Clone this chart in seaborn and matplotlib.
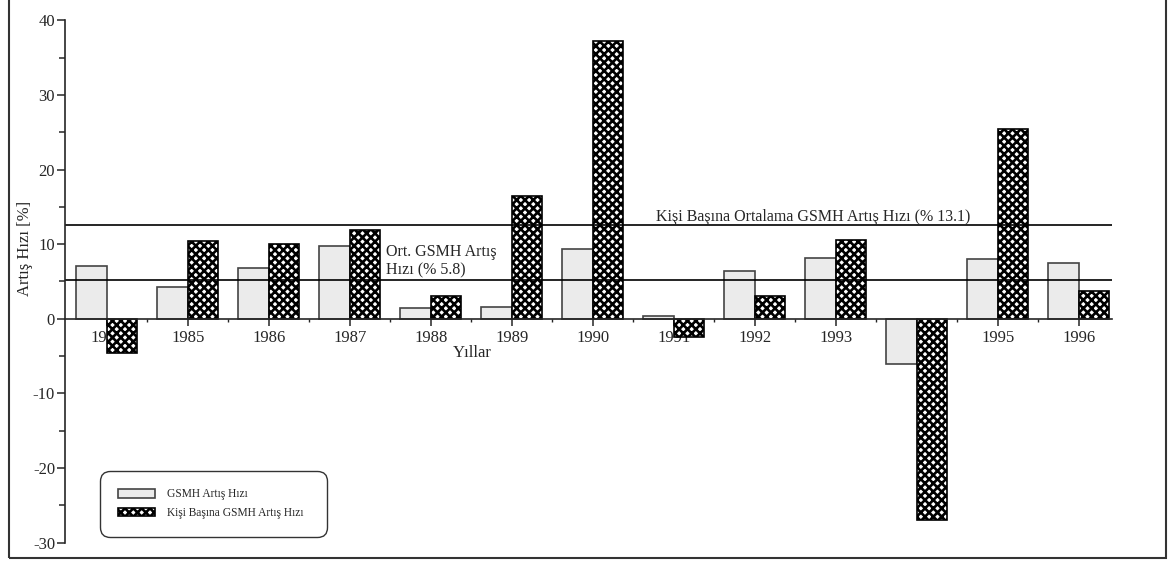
import pandas as pd
import seaborn as sns
import matplotlib.pyplot as plt
from matplotlib.patches import Rectangle
from matplotlib.ticker import MultipleLocator, FixedLocator

# data
years = ['1984', '1985', '1986', '1987', '1988', '1989', '1990',
         '1991', '1992', '1993', '1994', '1995', '1996']
gsmh = [7.1, 4.3, 6.8, 9.8, 1.5, 1.6, 9.4, 0.4, 6.4, 8.2, -6.1, 8.0, 7.5]
kisi = [-4.6, 10.4, 10.0, 11.9, 3.0, 16.4, 37.2, -2.5, 3.0, 10.5, -27.0, 25.5, 3.7]
series = ['GSMH Artış Hızı', 'Kişi Başına GSMH Artış Hızı']
avg_gsmh = 5.2
avg_kisi = 12.6

df = pd.DataFrame({'year': years * 2,
                   'value': gsmh + kisi,
                   'series': [series[0]] * len(years) + [series[1]] * len(years)})

sns.set_style('ticks')
plt.rcParams['font.family'] = ['Liberation Serif', 'DejaVu Serif']
plt.rcParams['axes.unicode_minus'] = False
plt.rcParams['hatch.linewidth'] = 1.9

fig = plt.figure(figsize=(11.71, 5.64), dpi=100)
ax = fig.add_axes([0.0559, 0.0378, 0.8937, 0.9262])

sns.barplot(data=df, x='year', y='value', hue='series', hue_order=series,
            palette=['#ebebeb', 'white'], width=0.75, dodge=True,
            edgecolor='#444444', linewidth=1.2, legend=False, ax=ax)

for bar in ax.containers[1]:
    bar.set_hatch('xxxx')
    bar.set_edgecolor('black')

# average lines
ax.axhline(avg_kisi, color='black', lw=1.2, zorder=1)
ax.axhline(avg_gsmh, color='black', lw=1.2, zorder=1)
ax.text(6.777, 13.14, 'Kişi Başına Ortalama GSMH Artış Hızı (% 13.1)',
        fontsize=11.5, va='baseline', ha='left')
ax.text(3.447, 10.0, 'Ort. GSMH Artış\nHızı (% 5.8)',
        fontsize=11.5, va='top', ha='left', linespacing=1.15)

ax.set_ylim(-30, 40)
ax.set_xlim(-0.51, 12.41)

# axes styling
for s in ['top', 'right']:
    ax.spines[s].set_visible(False)
ax.spines['bottom'].set_position(('data', 0))
ax.spines['bottom'].set_linewidth(1.2)
ax.spines['left'].set_linewidth(1.2)

ax.yaxis.set_major_locator(MultipleLocator(10))
ax.yaxis.set_minor_locator(MultipleLocator(5))
ax.tick_params(axis='y', which='major', direction='out', length=6, width=1.1,
               labelsize=12, pad=1.5)
ax.tick_params(axis='y', which='minor', direction='out', length=4, width=1.1)

ax.xaxis.set_minor_locator(FixedLocator([i + 0.5 for i in range(len(years) - 1)]))
ax.tick_params(axis='x', which='major', direction='out', length=5, width=1.1,
               labelsize=12, pad=3)
ax.tick_params(axis='x', which='minor', direction='out', length=2, width=1)

ax.set_xlabel('Yıllar', fontsize=12)
ax.xaxis.set_label_coords(0.3885, 0.378)
ax.set_ylabel('Artış Hızı [%]', fontsize=12)
ax.yaxis.set_label_coords(-0.031, 0.564)

leg = ax.legend(handles=[ax.containers[0][0], ax.containers[1][0]], labels=series,
                loc='lower left', bbox_to_anchor=(0.033, 0.011, 0.217, 0.12),
                mode='expand', borderaxespad=0, fontsize=8.3,
                handlelength=3.2, handleheight=0.78, labelspacing=0.57,
                borderpad=1.55, handletextpad=1.05, fancybox=True, frameon=True)
frame = leg.get_frame()
frame.set_boxstyle('round,pad=0,rounding_size=0.9')
frame.set_edgecolor('black')
frame.set_linewidth(1.0)

# outer frame around the figure
fig.add_artist(Rectangle((0.0077, 0.0106), 0.9878, 1.2, transform=fig.transFigure,
                         fill=False, edgecolor='#333333', lw=1.5))

fig.savefig('out.png', dpi=100)
